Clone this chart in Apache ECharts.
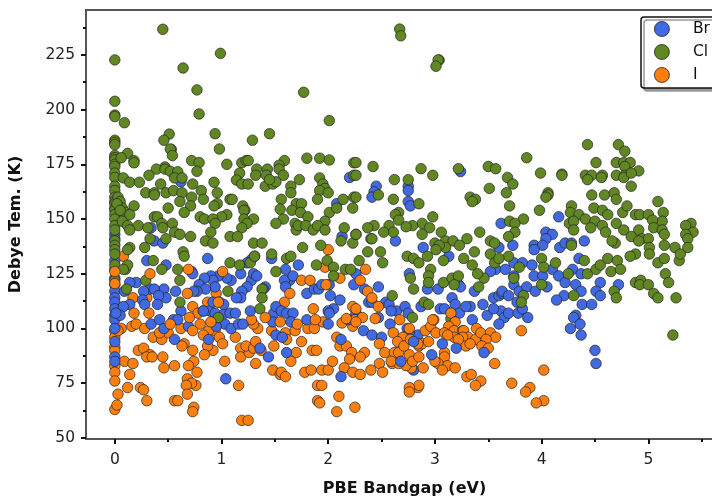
<!DOCTYPE html>
<html><head><meta charset="utf-8">
<style>html,body{margin:0;padding:0;background:#fff}#c{width:712px;height:497px}</style>
<script src="https://cdn.jsdelivr.net/npm/echarts@6/dist/echarts.min.js"></script>
</head><body><div id="c"></div>
<script>
const legendNames=['Br','Cl','I'];
const xMajor=[0,1,2,3,4,5];
const xMinor=[0.5,1.5,2.5,3.5,4.5,5.5];
const yMajor=[50,75,100,125,150,175,200,225];
const yMinor=[62.5,87.5,112.5,137.5,162.5,187.5,212.5,237.5];
const brMain=[[0,131],[0,127],[0,123],[0,120],[0,117],[0,114],[0,112],[0,109],[0,106],[0,104],[0,100],[0,94],[0,87],[0,85],[0,143],[0,141],
[.34,146],[.37,140],[.45,139],[.62,167],[2.2,169],[2.08,157],[2.13,142],
[.30,131],[.48,129],[.87,132],[.72,126],[.73,125],[1.31,133],[1.28,131.5],[1.24,130],[1.47,132],[1.6,127],[1.64,122],[1.59,122],[1.6,119],[1.72,129],[1.67,124],[1.18,125],[1.09,122],[1.05,123],[.97,124],[.9,124],[.92,122],[.84,123],[.79,120],[.94,119],[.85,118],[.77,117],[.74,117],[1.28,122],[1.24,119],[1.19,117],[1.18,114],[1.14,114],[1.3,125],[1.33,124],[1.41,119],[1.39,118],[.46,118],[.33,118],[.37,118],[.2,121],[.14,121],[.09,117],[.57,117],[.48,114],[.41,115],[.27,117],[.26,113],[.14,111],[.4,111],[.28,111],[.08,110],[.05,106],[.01,107],[.34,102],[.42,104],[.46,100],[.56,95],[.62,108],[.55,104],[.59,104],[.69,101],[.88,95],[.89,108],[.94,107],[.83,108],[1.03,107],[1.08,107],[1.13,107],[1.27,108],[1.03,102],[1.09,100],[1.16,102],[1.2,102],[.95,101],[.92,112],[.98,112],[1.02,111],[1.49,107],[1.51,110],[1.56,108],[1.61,107],[1.67,107],[1.65,103],[1.48,103],[1.51,97],[1.57,96],[1.61,89],[1.44,87],[1.36,91],[1.04,77],[1.8,116],[1.87,118],[1.91,118],[2.01,120],[2.02,115],[1.94,120],[2.11,113],[2.05,109],[2,108],[2.01,107],[1.8,104],[2,102],[2.19,104],[2.12,78],[2.12,95],[2.24,120],[2.26,125],
[3.24,171.7],[2.45,165],[2.43,162.4],[2.41,160],[2.75,165],[2.75,163],[2.75,158],[2.77,156],[3.62,148],[4.16,151],[4.04,144],[4.1,143],[4.04,141],[2.63,140],[2.89,137],[3.6,137],[3.73,138],[3.93,138],[4.01,138],[4.17,137],[4.22,139],[4.28,139],[4.4,140],
[2.76,125],[2.47,119],[2.34,118],[2.38,112],[2.41,112],[2.54,112],[2.57,111],[2.64,108],[2.59,108],[2.72,110],[2.75,107],[2.87,110],[2.93,118],[3.03,118],[3.16,114],[3.22,120],[3.24,119],[3.37,117],[3.45,111],[3.33,110],[3.05,109],[3.09,109],[3.19,111],[3.23,107],[3.35,104],[3.49,106],[3.62,108],[3.55,109],[3.65,105],[3.6,102],[3.69,107],[3.78,107],[3.87,105],[3.82,109],[3.55,114],[3.6,115],[3.63,116],[3.63,117],[3.69,115],[3.74,120],[3.79,117],[3.77,112],[3.86,119],[3.74,124],[3.57,127],[3.52,126],[3.66,127],[3.74,130],[3.82,130],[3.91,129],[3.93,124],[4.01,124],[3.94,117],[4.05,119],[4.1,127],[4.16,124],[4.22,121],[4.32,120],[4.21,115],[4.37,117],[4.35,132],[4.29,127],[4.37,125],[4.55,121],[4.72,120],[4.51,117],[4.55,115],[4.14,113],[4.38,111],[4.47,111],[4.32,106],[4.3,105],[4.36,102],[4.27,100],[4.37,97],[4.5,90],[4.51,84],[3.93,136],[3.13,133],[2.58,102],[2.33,99],[2.41,97],[2.5,96],[2.74,100],[2.84,97],[2.8,81],[2.47,105],[2.26,107],[3.13,98],[2.76,98],[3.29,110]];
const brTop=[[2.68,85],[2.8,94],[2.97,88],[3.46,89],[3.07,93],[3.2,91]];
const clValues=[[.45,236.7],[.99,225.7],[0,222.7],[.64,219],[.77,209],[1.77,207.9],[0,203.8],[0,197.5],[0,196.8],[.79,198],[2.01,195],[.09,194],[.51,188.8],[.94,189],[1.45,189],[.46,186],[1.29,186],[.53,181.8],[.52,182],[.98,182],[.54,179],[.12,180],
[0,186],[0,185],[0,184],[0,179],[0,178],[0,177],[0,175],[0,174],[0,171],[0,169],[0,165],[0,163],[0,160],[0,158],[0,157],[0,155],[0,154],[0,152],[0,150],[0,147],[0,145],[0,140],[0,138],[0,136],[0,134],[.03,160],[.05,158],[.07,155],[.1,153],
[.18,176.7],[.18,175.7],[.06,178],[.72,176.7],[.79,175.8],[1.05,175],[1.19,175.7],[1.23,176.7],[1.25,176.7],[1.59,176.7],[1.8,177.8],[1.92,177.8],[2.01,177],[2.24,175.7],[.47,173.8],[.39,172.8],[.47,172.8],[.52,171.8],[.59,171.6],[.77,171.8],[1.33,172.8],[1.43,172.8],[1.54,174.6],[1.54,172.8],[.32,170],[.08,168.8],[.56,168.8],[.63,168.8],[1.17,171],[1.32,170],[1.42,170],[1.58,170],[1.92,168.8],[2.24,170],[.14,166.8],[.23,166.8],[.43,166],[.73,166],[.93,166.8],[1.14,167.8],[1.19,166],[1.25,166],[1.41,165],[1.48,166],[1.51,167],[1.45,168],[1.73,168],[1.65,165],[1.95,166],[1.97,164],[.29,162],[.37,162],[.37,161],[.48,162],[.55,163],[.63,162],[.81,163],[.96,162],[1.65,162],[1.92,163],[2,162],[.72,160],[.83,159],[.61,158],[.71,156],[1.08,159],[1.1,159],[1.56,159],[1.9,159],[2.14,159],[2.24,160],[.96,157],[.93,156],[1.2,156],[1.7,157],[1.75,157],[.18,156],[.02,157],[.5,155],[.65,153],[1.22,154],[1.21,154],[1.55,154.5],[1.66,154],[1.74,153],[2.01,153],[2.08,155],[2.23,155],[.14,152],[.05,154],[.37,151],[.4,151],[.8,151],[1.05,152],[1,151],[.84,150],[.92,150],[1.3,150],[1.21,150],[1.58,150],[1.81,151],[.07,149],[.44,148],[.54,148],[.94,148],[1.24,148],[1.69,148],[1.97,149],
[.12,147],[.22,147],[.14,145],[.31,146],[.45,146],[.9,144],[.56,144],[.61,143],[.71,142],[1.19,146],[1.08,142],[1.15,142],[.85,140],[.92,139],[.48,141],[.33,141],[.28,137],[.14,137],[1.3,139],[1.38,139],[1.76,137],[1.93,138],[2.12,140],[2.23,139],[1.7,145],[1.72,147],[1.79,147],[1.86,145],[1.9,147],[1.97,145],[1.51,148],[2.15,146],[2.26,143],[.64,135],
[0,129],[0,122],[.1,127],[.12,129],[.36,131],[.44,127],[.59,127],[.29,122],[.61,122],[1.08,130],[1.17,129],[1.27,130],[1.51,126],[1.61,132],[1.65,133],[1.31,133],[1.47,134],[1.06,117],[.61,112],[1.38,118],[1.38,114],[1.36,109],[.97,105],[1.89,129],[1.99,131],[2.05,128],[2.05,124],[2.16,127],[2.21,127],[.65,133],[.12,136],[.11,118],[.08,127],
[2.67,236.8],[2.68,233.7],[3.04,222.6],[3.03,222.7],[3.01,219.8],[4.43,184],[4.72,184],[4.78,181],[3.86,178],[2.26,175.8],[2.42,174],[2.26,170],[2.87,173],[3.22,173],[3.5,174],[3.57,173],[4.51,175.8],[4.7,175.8],[4.77,175.8],[4.83,175.8],[4.78,174],[2.98,170],[2.62,168],[2.75,168],[3.68,169],[3.73,166],[3.99,171],[4.19,170.5],[4.19,170],[4.41,170],[4.47,170],[4.57,170],[4.56,169],[4.43,168],[4.7,170],[4.78,170],[4.77,169],[4.91,172],[4.84,171],[4.84,165],[3.51,164],[3.67,162],[2.47,161],[2.26,160],[2.61,159],[4.06,162],[4.06,161],[4.04,160],[3.33,160],[3.38,159],[3.35,158],[2.85,157],[4.47,161],[4.59,161],[4.68,162],[4.7,159],[5.09,158],[3.7,156],[4.28,156],[3.98,154],[4.49,155],[4.57,154],[4.62,152],[4.76,153],[4.8,156],[4.27,153],[4.35,152],[4.41,150],[4.26,148],[4.3,149],[4.3,145],[2.98,151],[2.66,153],[2.63,152],[2.66,149.5],[4.88,152],[4.92,152],[5,152],[5.14,153],[5.13,149],[5.04,149.5],[3.83,150],[3.7,149],[3.75,148],[3.75,144],[2.88,148],[2.79,147],[2.73,146.5],[2.57,147],[2.43,147],[2.37,146],[2.95,146],[4.5,149],[4.57,147],[4.6,144],[4.7,148],[4.46,146],[4.77,145],[4.91,145],[5.05,146],[5.13,145],[5.4,148],[5.35,147],[5.42,144],[5.35,143],[5.37,141],[5.37,137],[3.42,144],[3.06,144],[2.61,144],[2.52,144],[2.88,143],[2.26,143],[2.4,141],[2.41,141],
[3.52,140],[3.56,139],[3.69,142],[3.3,141],[3.1,140],[3.17,140],[3,139],[3.23,138],[3.1,137],[3.04,138],[4.28,138],[4.69,139],[4.66,140],[4.84,142],[4.94,141],[5,141],[4.91,140],[5.15,143],[5.15,138],[5.01,137],[5.25,137],
[2.37,135],[2.49,135],[2.51,130],[2.29,131],[2.74,133],[2.8,132],[2.85,130],[2.93,133],[3.01,136],[3.08,131],[2.96,127],[2.94,124],[2.94,121],[3.08,121],[2.77,123],[2.8,118],[3.16,123],[3.22,124],[3.18,120],[3.41,119],[3.46,123],[3.4,125],[3.35,129],[3.27,132],[3.37,135],[3.52,134],[3.56,130],[3.69,133],[3.6,132],[3.74,123],[3.79,128],[4,132],[4.02,128],[4.13,130],[4.25,125],[4.4,131],[4.43,125],[4.51,127],[4.55,129],[4.62,132],[4.65,126],[4.71,131],[4.74,127],[4,120],[3.83,115],[3.81,112],[4.3,115],[4.68,117],[4.7,114],[4.88,121],[4.93,122],[4.92,120],[5,120],[5.05,116],[5.09,114],[5.16,125],[5.19,121],[5.26,114],[5.09,130],[5.15,132],[5.29,131],[5.01,134],[4.88,134],[4.83,133],[5.3,134],[5.23,97],[2.6,115],[2.9,112],[2.94,111],[2.79,105],[3.15,104.5]];
const iLow=[[0,99],[0,96],[0,91.5],[0,90],[0,83],[0,80],[0,76],[0,63],[.02,65],[.03,70],[.12,73],[.14,79],[.09,85],[.17,84],[.08,133],[.17,114],[.3,114],[.16,101],[.2,102],[.28,100],[.06,100],[.03,99],[.36,96],[.44,95],[.5,98],[.42,98],[.22,90],[.27,91],[.33,88],[.3,87],[.35,87],[.45,87],[.46,82],[.56,83],[.65,93],[.63,92],[.73,90],[.74,85],[.69,83],[.77,80],[.68,77],[.76,74],[.72,75],[.67,74],[.68,70],[.56,67],[.59,67],[.3,67],[.24,73],[.27,72],[.74,64],[.73,62],[1.19,58],[1.25,58],[1.16,74],[.94,99],[.95,116],[.87,112],[.62,100],[.73,110],[.78,107],[.83,108],[.8,102],[.88,99],[.83,97],[.98,96],[1.01,93],[.92,90],[.87,92],[.84,88],[1.03,85],[1.13,96],[1.18,91],[1.18,87],[1.26,89],[1.23,92],[1.3,91],[1.32,94],[1.37,90],[1.32,84],[1.34,100],[1.3,102],[1.28,104],[1.47,99],[1.49,92],[1.48,81],[1.55,79],[1.56,80],[1.6,78],[1.6,98],[1.61,95],[1.69,99],[1.75,94],[1.7,89],[1.65,85],[1.78,80],[1.84,81],[1.94,81],[2,81],[2.04,85],[1.81,100],[1.87,100],[1.95,103],[2.08,96],[2.11,92],[2.17,92],[2.22,89],[2.2,86],[2.15,82],[2.23,80],[1.9,74],[1.94,74],[1.9,67],[1.92,66],[2.1,69],[2.08,62],[2.25,64],[1.59,112],[2.11,123],[1.97,128],[2,136],[1.85,90],[1.89,90],[2.13,102.5],[2.23,101]];
const iTop=[[0,126],[0,120.5],[.33,125],[.69,127],[1.01,126],[.68,116],[.97,112],[.18,107],[.32,107],[.52,102],[.7,105],[.73,99],[.9,103],[1.41,105],[1.55,103],[1.71,102],[1.64,116],[1.75,122],[1.83,122],[1.98,120],[1.86,109],[1.88,104],[2.23,110],[2.25,104],[2.17,104.5],
[2.35,127],[2.3,122],[2.37,117],[2.41,114],[2.47,110],[2.26,109],[2.32,105],[2.44,104.5],[2.26,103],[2.67,104],[2.61,98],[2.48,93],[2.53,89],[2.48,84],[2.4,81],[2.3,79],[2.51,80],[2.34,89],[2.3,87],[2.76,100],[2.91,99],[2.96,101],[2.99,104],[2.98,104],[2.7,96],[2.65,94],[2.62,89],[2.66,89],[2.76,88],[2.85,92],[2.88,93],[2.94,94],[3.01,98],[3.09,89],[3.09,87],[3.03,84],[3.12,83],[3.19,82],[3.07,81],[2.78,82],[2.89,82],[2.73,83],[2.6,84],[2.66,84],[2.79,85],[2.85,87],[2.71,92],[2.77,95],[2.84,93],[3.15,107],[3.19,103],[3.13,101],[3.18,99],[3.09,98],[3.18,96],[3.26,99],[3.27,99],[3.39,100],[3.31,96],[3.38,95],[3.26,96],[3.43,98],[3.52,98],[3.57,96],[3.48,95],[3.44,92],[3.5,91],[3.29,92],[3.33,93],[3.22,95],[3.12,97],[3.81,99],[3.56,84],[3.3,78],[3.34,79],[3.43,76],[3.38,74],[3.72,75],[3.89,73],[3.85,71],[4.02,81],[4.02,67],[3.95,66],[2.84,73],[2.85,74],[2.76,73],[2.76,71],[2.59,85],[3,85]];

const colors={Br:'#4169e1',Cl:'#618722',I:'#ff7f0e'};
const font='"DejaVu Sans"';
function scatter(name,data){return {type:'scatter',name,data,xAxisIndex:0,yAxisIndex:0,symbolSize:10.5,
  itemStyle:{color:colors[name],borderColor:'#222',borderWidth:0.7,opacity:1},emphasis:{disabled:true}};}
const xMin=-0.27,xMax=5.7,yMin=49.5,yMax=245.5;
const chart=echarts.init(document.getElementById('c'),null,{renderer:'canvas'});
chart.setOption({animation:false,backgroundColor:'#fff',
 grid:{left:86,top:10,right:-11,bottom:58,outerBoundsMode:'none',show:true,borderColor:'#555',borderWidth:2,backgroundColor:'transparent'},
 legend:{data:legendNames,orient:'vertical',left:641,top:17,padding:[4,70,5,13],itemWidth:30,itemHeight:15,itemGap:7,
  backgroundColor:'#fff',borderColor:'#111',borderWidth:1.5,borderRadius:3,shadowColor:'#999',shadowBlur:0,shadowOffsetX:3,shadowOffsetY:3,
  itemStyle:{borderColor:'#222',borderWidth:0.8},
  textStyle:{fontFamily:font,fontSize:15.5,color:'#111',padding:[0,0,0,11]},icon:'circle'},
 xAxis:[{type:'value',min:xMin,max:xMax,position:'bottom',name:'PBE Bandgap (eV)',nameLocation:'middle',nameGap:42,
   nameTextStyle:{fontFamily:font,fontWeight:'bold',fontSize:16,color:'#111'},
   axisLine:{show:true,onZero:false,lineStyle:{color:'#555',width:2}},
   axisTick:{show:true,customValues:xMajor,length:5,lineStyle:{color:'#111',width:2}},
   axisLabel:{customValues:xMajor,fontFamily:font,fontSize:15.5,color:'#222',margin:13},splitLine:{show:false}},
  {type:'value',min:xMin,max:xMax,position:'bottom',axisLine:{show:false,onZero:false},
   axisTick:{show:true,customValues:xMinor,length:3,lineStyle:{color:'#111',width:2}},
   axisLabel:{show:false},splitLine:{show:false}}],
 yAxis:[{type:'value',min:yMin,max:yMax,position:'left',name:'Debye Tem. (K)',nameLocation:'middle',nameGap:62,
   nameTextStyle:{fontFamily:font,fontWeight:'bold',fontSize:16,color:'#111'},
   axisLine:{show:true,onZero:false,lineStyle:{color:'#555',width:2}},
   axisTick:{show:true,customValues:yMajor,length:5,lineStyle:{color:'#111',width:2}},
   axisLabel:{customValues:yMajor,fontFamily:font,fontSize:15.5,color:'#222',margin:11},splitLine:{show:false}},
  {type:'value',min:yMin,max:yMax,position:'left',axisLine:{show:false,onZero:false},
   axisTick:{show:true,customValues:yMinor,length:3,lineStyle:{color:'#111',width:2}},
   axisLabel:{show:false},splitLine:{show:false}}],
 series:[scatter('I',iLow),scatter('Br',brMain),scatter('Cl',clValues),scatter('I',iTop),scatter('Br',brTop)]
});
</script></body></html>
